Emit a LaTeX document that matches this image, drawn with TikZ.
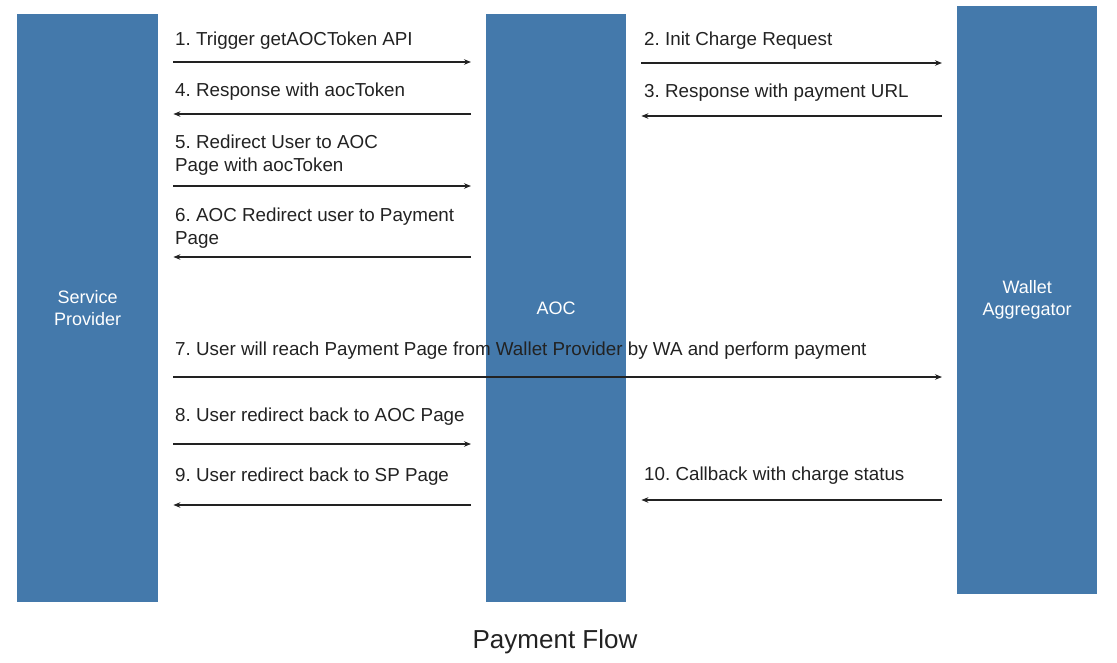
\documentclass[tikz,border=0pt]{standalone}
\usepackage{fontspec}
\setmainfont{Liberation Sans}
\usetikzlibrary{arrows.meta}
\definecolor{barblue}{RGB}{68,121,171}
\definecolor{txt}{RGB}{34,34,34}
\tikzset{
  bar/.style={rectangle, fill=barblue, inner sep=0pt, anchor=north west,
    text=white, align=center, font=\fontsize{18}{22}\selectfont},
  msg/.style={draw=txt, line width=1.1pt, -{Stealth[length=7pt,width=5.5pt]}},
  lbl/.style={anchor=base west, inner sep=0pt, text=txt, align=left,
    font=\fontsize{18.8}{23}\selectfont}
}
\begin{document}
\frenchspacing
\begin{tikzpicture}[x=1pt,y=-1pt]
\useasboundingbox (0,0) rectangle (1117,662);
\node[bar, minimum width=141pt, minimum height=588pt] (sp) at (17,14) {Service\\Provider};
\node[bar, minimum width=140pt, minimum height=588pt] (aoc) at (486,14) {AOC};
\node[bar, minimum width=140pt, minimum height=588pt] (wa) at (957,6) {Wallet\\Aggregator};

% message rows
\coordinate (y1) at (0,62);
\coordinate (y2) at (0,63);
\coordinate (y3) at (0,116);
\coordinate (y4) at (0,114);
\coordinate (y5) at (0,186);
\coordinate (y6) at (0,257);
\coordinate (y7) at (0,377);
\coordinate (y8) at (0,444);
\coordinate (y9) at (0,505);
\coordinate (y10) at (0,500);

\tikzset{gap/.style={shorten <=15pt, shorten >=15pt}}
\draw[msg,gap] (sp.east |- y1) -- (aoc.west |- y1);
\draw[msg,gap] (aoc.east |- y2) -- (wa.west |- y2);
\draw[msg,gap] (wa.west |- y3) -- (aoc.east |- y3);
\draw[msg,gap] (aoc.west |- y4) -- (sp.east |- y4);
\draw[msg,gap] (sp.east |- y5) -- (aoc.west |- y5);
\draw[msg,gap] (aoc.west |- y6) -- (sp.east |- y6);
\draw[msg,gap] (sp.east |- y7) -- (wa.west |- y7);
\draw[msg,gap] (sp.east |- y8) -- (aoc.west |- y8);
\draw[msg,gap] (aoc.west |- y9) -- (sp.east |- y9);
\draw[msg,gap] (wa.west |- y10) -- (aoc.east |- y10);

\node[lbl] (t1) at (175,45) {1. Trigger getAOCToken API};
\node[lbl] (t2) at (644,45) {2. Init Charge Request};
\node[lbl] (t3) at (644,97) {3. Response with payment URL};
\node[lbl] (t4) at (175,96) {4. Response with aocToken};
\node[lbl] (t5) at (175,171) {5. Redirect User to AOC\\Page with aocToken};
\node[lbl] (t6) at (175,244) {6. AOC Redirect user to Payment\\Page};
\node[lbl] (t7) at (175,355) {7. User will reach Payment Page from Wallet Provider by WA and perform payment};
\node[lbl] (t8) at (175,421) {8. User redirect back to AOC Page};
\node[lbl] (t9) at (175,481) {9. User redirect back to SP Page};
\node[lbl] (t10) at (644,480) {10. Callback with charge status};

\node[anchor=base, inner sep=0pt, text=txt, font=\fontsize{26}{30}\selectfont] (title) at (555,648) {Payment Flow};
\end{tikzpicture}
\end{document}
